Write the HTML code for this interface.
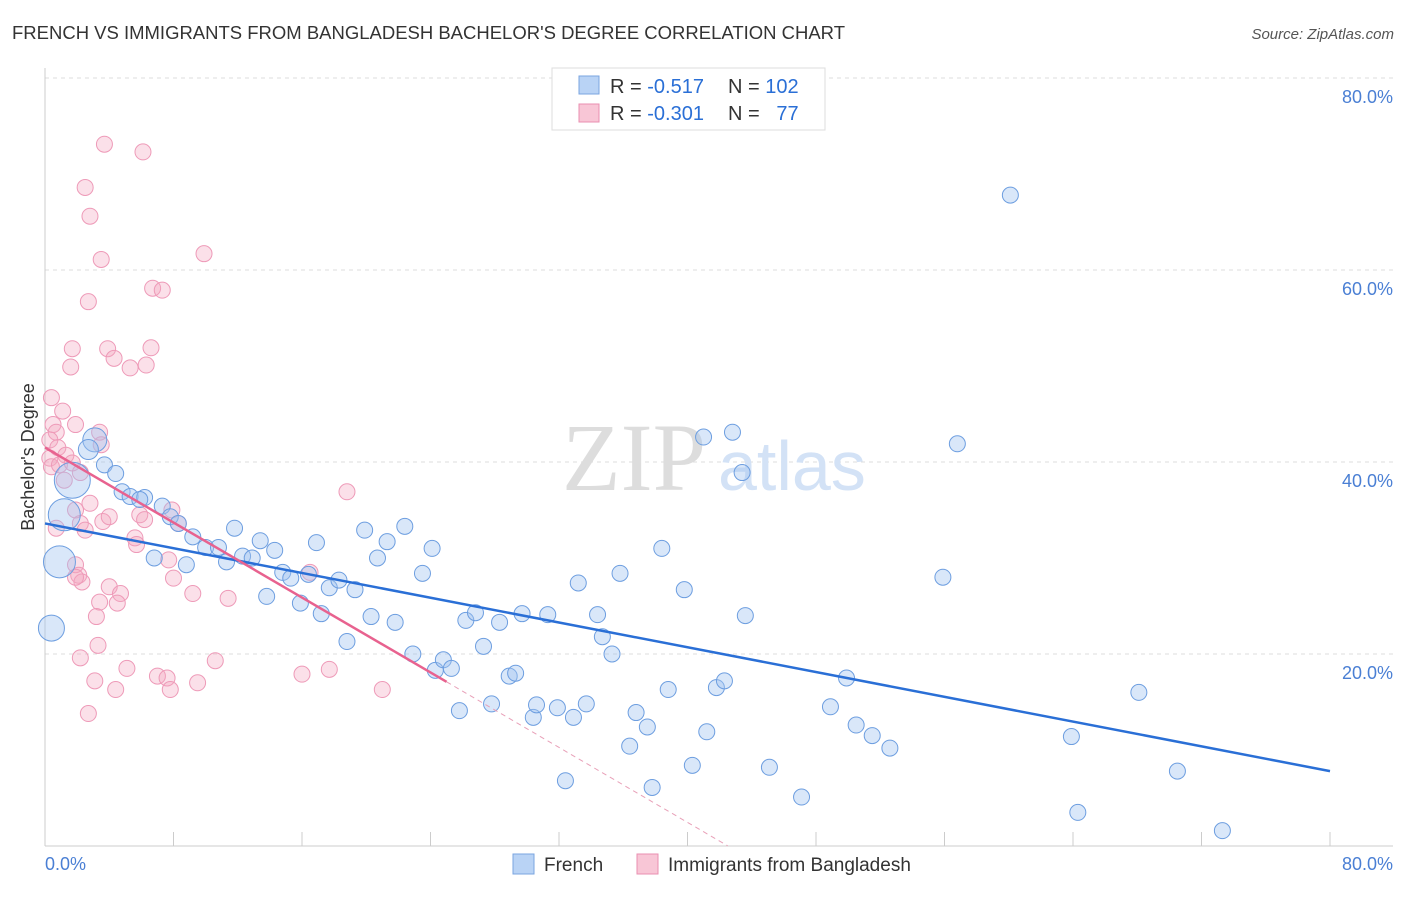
<!DOCTYPE html>
<html><head><meta charset="utf-8"><style>
body{margin:0;background:#fff;font-family:"Liberation Sans",sans-serif}
</style></head><body>
<svg width="1406" height="892" xmlns="http://www.w3.org/2000/svg" font-family="Liberation Sans, sans-serif">
<text x="12" y="39" font-size="18" fill="#333" textLength="833" lengthAdjust="spacingAndGlyphs">FRENCH VS IMMIGRANTS FROM BANGLADESH BACHELOR'S DEGREE CORRELATION CHART</text>
<text x="1394" y="39" font-size="15" fill="#555" font-style="italic" text-anchor="end">Source: ZipAtlas.com</text>
<g id="grid"></g>
<text x="706" y="490" font-size="96" fill="#ddd" style="font-family:'Liberation Serif',serif" text-anchor="end">ZIP</text>
<text x="718" y="490" font-size="70" fill="#d3e2f6">atlas</text>
<g id="axes"></g>
<g id="pts"></g>
<g id="lines"></g>
<text transform="translate(34,457) rotate(-90)" font-size="18" fill="#333" text-anchor="middle">Bachelor's Degree</text>
<text x="45" y="870" font-size="18" fill="#4a7fd4">0.0%</text>
<text x="1393" y="870" font-size="18" fill="#4a7fd4" text-anchor="end">80.0%</text>
<g>
<rect x="552" y="68" width="273" height="62" fill="#fff" stroke="#ddd"/>
<rect x="579" y="76" width="20" height="18" fill="#b9d3f5" stroke="#7aa5e0"/>
<rect x="579" y="104" width="20" height="18" fill="#f8c6d6" stroke="#ea8fb0"/>
<text x="610" y="93" font-size="20" fill="#333">R = <tspan fill="#2a6fd6">-0.517</tspan></text>
<text x="728" y="93" font-size="20" fill="#333">N = <tspan fill="#2a6fd6">102</tspan></text>
<text x="610" y="120" font-size="20" fill="#333">R = <tspan fill="#2a6fd6">-0.301</tspan></text>
<text x="728" y="120" font-size="20" fill="#333">N = <tspan fill="#2a6fd6">&#160;&#160;77</tspan></text>
</g>
<g>
<rect x="513" y="854" width="21" height="20" fill="#b9d3f5" stroke="#7aa5e0"/>
<text x="544" y="871" font-size="19" fill="#333">French</text>
<rect x="637" y="854" width="21" height="20" fill="#f8c6d6" stroke="#ea8fb0"/>
<text x="668" y="871" font-size="19" fill="#333">Immigrants from Bangladesh</text>
</g>
</svg>
<script>
const yTicks=[20,40,60,80];
const yTickLabels=["20.0%","40.0%","60.0%","80.0%"];
const xTicks=[0,8,16,24,32,40,48,56,64,72,80];
const blueX=[60.1,41.0,42.8,43.4,56.8,55.9,3.1,2.7,1.7,3.7,4.4,1.2,0.9,0.4,4.8,5.3,6.2,5.9,7.3,7.8,8.3,9.2,10.0,10.8,11.8,6.8,8.8,11.3,12.3,12.9,13.4,14.3,14.8,15.3,13.8,15.9,16.4,16.9,17.2,17.7,18.3,19.3,18.8,19.9,20.7,21.3,22.4,20.3,21.8,23.5,24.1,22.9,24.3,24.8,25.3,26.2,26.8,27.3,28.3,29.7,31.3,25.8,27.8,28.9,29.3,30.4,30.6,31.9,32.9,33.7,33.2,34.4,34.7,35.3,35.8,38.4,39.8,32.4,36.4,36.8,37.5,37.8,38.8,40.3,41.2,41.8,42.3,43.6,45.1,47.1,48.9,49.9,50.5,51.5,52.6,63.9,64.3,68.1,70.5,73.3];
const blueY=[67.8,42.6,43.1,38.9,41.9,28.0,42.3,41.3,38.1,39.7,38.8,34.5,29.6,22.7,36.9,36.4,36.3,36.1,35.4,34.3,33.6,32.2,31.1,31.1,33.1,30.0,29.3,29.6,30.2,30.0,31.8,30.8,28.5,27.9,26.0,25.3,28.3,31.6,24.2,26.9,27.7,26.7,21.3,32.9,30.0,31.7,33.3,23.9,23.3,28.4,31.0,20.0,18.3,19.4,18.5,23.5,24.3,20.8,23.3,24.2,24.1,14.1,14.8,17.7,18.0,13.4,14.7,14.4,13.4,14.8,27.4,24.1,21.8,20.0,28.4,31.0,26.7,6.8,10.4,13.9,12.4,6.1,16.3,8.4,11.9,16.5,17.2,24.0,8.2,5.1,14.5,17.5,12.6,11.5,10.2,11.4,3.5,16.0,7.8,1.6];
const blueR=[8,8,8,8,8,8,12,10,18,8,8,16,16,13];
const pinkX=[3.7,6.1,2.5,2.8,9.9,3.5,6.7,7.3,2.7,1.7,3.9,6.6,1.6,4.3,5.3,6.3,0.4,1.1,0.5,1.9,0.7,0.3,0.8,0.3,0.4,1.3,0.9,1.7,2.2,3.4,3.5,1.2,2.8,1.9,2.2,0.7,2.5,3.6,4.0,5.9,7.9,6.2,8.3,18.8,5.6,5.7,7.7,1.9,2.1,2.3,1.9,4.0,3.4,4.7,4.5,3.2,8.0,9.2,11.4,3.3,2.2,3.1,5.1,7.0,7.6,7.8,4.4,9.5,10.6,2.7,16.0,17.7,21.0,16.5];
const pinkY=[73.1,72.3,68.6,65.6,61.7,61.1,58.1,57.9,56.7,51.8,51.8,51.9,49.9,50.8,49.8,50.1,46.7,45.3,43.9,43.9,43.1,42.3,41.5,40.4,39.5,40.7,39.7,39.9,38.9,43.1,41.8,38.1,35.7,35.0,33.6,33.1,32.9,33.8,34.3,34.5,35.0,34.0,33.6,36.9,32.1,31.4,29.8,29.3,28.2,27.5,28.0,27.0,25.4,26.3,25.3,23.9,27.9,26.3,25.8,20.9,19.6,17.2,18.5,17.7,17.5,16.3,16.3,17.0,19.3,13.8,17.9,18.4,16.3,28.5];
const blueLine=[33.6,7.8];   // value at x=0, x=80
const pinkLine=[41.5,-0.976];  // intercept, slope
const pinkSolidEnd=25, pinkDashEnd=42.5;
const X=v=>45+v*1285/80, Y=v=>846-v*9.6;
const NS="http://www.w3.org/2000/svg";
function mk(t,a,p){const e=document.createElementNS(NS,t);for(const k in a)e.setAttribute(k,a[k]);p.appendChild(e);return e;}
const grid=document.getElementById('grid'),axes=document.getElementById('axes');
yTicks.forEach((t,i)=>{
 const l=mk('line',{x1:45,x2:1393,y1:Y(t),y2:Y(t),stroke:'#ddd','stroke-dasharray':'4,4'},grid);
 
 
 const tx=mk('text',{x:1393,y:Y(t)+25,'font-size':18,fill:'#4a7fd4','text-anchor':'end'},grid);tx.textContent=yTickLabels[i];
 
 
});
const ax=mk('line',{x1:45,x2:1393,y1:846,y2:846,stroke:'#ccc'},axes);


const ay=mk('line',{x1:45,x2:45,y1:68,y2:846,stroke:'#ccc'},axes);


xTicks.forEach(t=>{const l=mk('line',{x1:X(t),x2:X(t),y1:832,y2:846,stroke:'#ccc'},axes);
 
 });
const pts=document.getElementById('pts');
pinkX.forEach((v,i)=>{const c=mk('circle',{cx:X(v),cy:Y(pinkY[i]),r:8,fill:'rgba(244,166,192,0.35)',stroke:'#ee9ab8','stroke-width':1},pts);
 
 });
blueX.forEach((v,i)=>{const c=mk('circle',{cx:X(v),cy:Y(blueY[i]),r:blueR[i]||8,fill:'rgba(160,195,240,0.4)',stroke:'#6d9ee0','stroke-width':1},pts);
 
 });
const lines=document.getElementById('lines');
const bl=mk('line',{x1:X(0),y1:Y(blueLine[0]),x2:X(80),y2:Y(blueLine[1]),stroke:'#2a6fd6','stroke-width':2.5},lines);


const pf=x=>pinkLine[0]+pinkLine[1]*x;
const pl=mk('line',{x1:X(0),y1:Y(pf(0)),x2:X(pinkSolidEnd),y2:Y(pf(pinkSolidEnd)),stroke:'#e8628f','stroke-width':2.5},lines);


const pd=mk('line',{x1:X(pinkSolidEnd),y1:Y(pf(pinkSolidEnd)),x2:X(pinkDashEnd),y2:Y(pf(pinkDashEnd)),stroke:'#e8a0b8','stroke-width':1,'stroke-dasharray':'5,4'},lines);


</script>
</body></html>
